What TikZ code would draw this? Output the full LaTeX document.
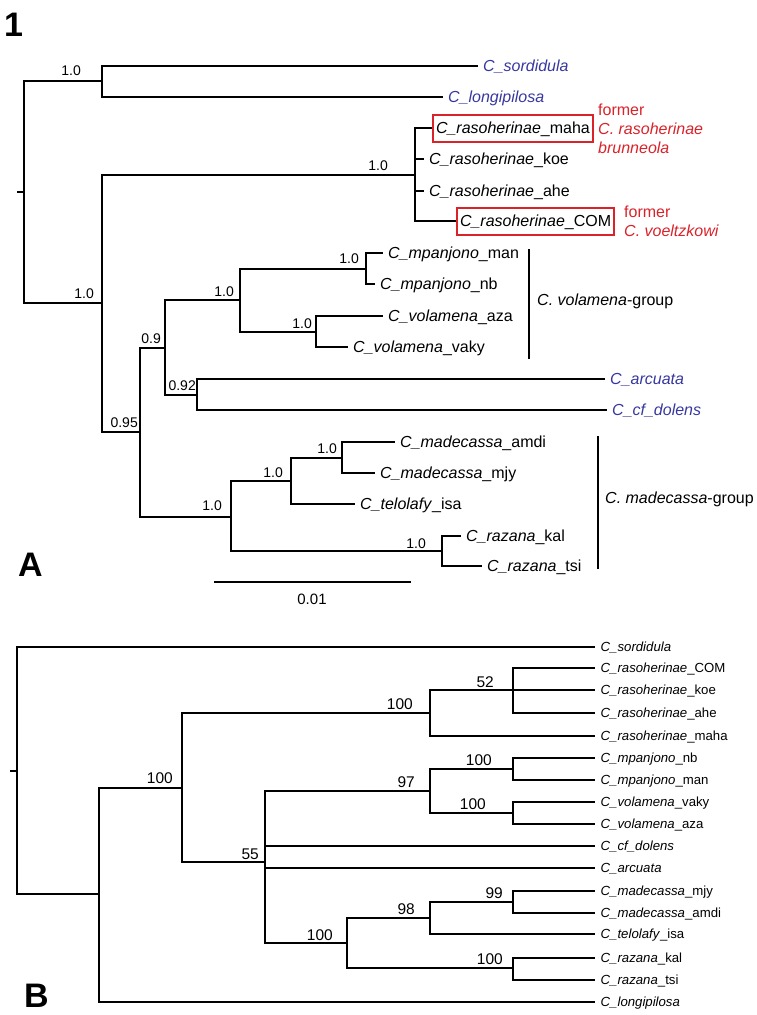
\documentclass[tikz,border=0pt]{standalone}
\usepackage{fontspec}
\setmainfont{Liberation Sans}
\definecolor{outblue}{RGB}{55,55,160}
\definecolor{boxred}{RGB}{218,34,41}

\begin{document}
\begin{tikzpicture}[
    x=1pt, y=-1pt,
    branch/.style={line width=2.4pt},
    taxon/.style={anchor=west, font=\fontsize{16}{19}\selectfont,
                  text height=12pt, text depth=2pt,
                  inner xsep=5pt, inner ysep=0pt},
    taxon out/.style={taxon, text=outblue},
    taxon boxed/.style={taxon, draw=boxred, line width=2pt,
                        inner xsep=3pt, inner ysep=6.5pt},
    taxon small/.style={anchor=west, font=\fontsize{13.2}{15}\selectfont,
                        text height=10pt, text depth=0.5pt,
                        inner xsep=5.5pt, inner ysep=0pt},
    supp/.style={anchor=base east, inner sep=0pt, font=\fontsize{14}{16}\selectfont},
    supp big/.style={supp, font=\fontsize{15.5}{18}\selectfont},
    note/.style={anchor=base west, inner sep=0pt, text=boxred,
                 font=\fontsize{16}{19}\selectfont},
    group/.style={anchor=base west, inner sep=0pt, font=\fontsize{16}{19}\selectfont},
    panel/.style={anchor=base west, inner sep=0pt,
                  font=\fontsize{34}{40}\selectfont\bfseries},
]

\def\cname#1#2{\textit{C\_#1}\_#2}

\useasboundingbox (0,0) rectangle (756,1015);

% =====================================================================
%  PANEL A -- Bayesian tree (posterior probabilities)
% =====================================================================
\node[panel] (pOne) at (4,36) {1};
\node[panel] (pA) at (18,576) {A};

% --- internal nodes ---
\coordinate (rAtick) at (17,192);
\coordinate (rA)  at (24,192);
\coordinate (a1)  at (102,81);
\coordinate (a2)  at (102,303);
\coordinate (a3)  at (415,175);
\coordinate (a4)  at (140,432);
\coordinate (a5)  at (165,348);
\coordinate (a6)  at (240,300);
\coordinate (a7)  at (366,269);
\coordinate (a8)  at (316,332);
\coordinate (a9)  at (197,395);
\coordinate (a10) at (231,517);
\coordinate (a11) at (291,481);
\coordinate (a12) at (342,458);
\coordinate (a13) at (442,551);

% --- tips ---
\node[taxon out]   (sordA)  at (478,66)  {\textit{C\_sordidula}};
\node[taxon out]   (longiA) at (443,97)  {\textit{C\_longipilosa}};
\node[taxon boxed] (mahaA)  at (432,128) {\cname{rasoherinae}{maha}};
\node[taxon]       (koeA)   at (424,159) {\cname{rasoherinae}{koe}};
\node[taxon]       (aheA)   at (424,191) {\cname{rasoherinae}{ahe}};
\node[taxon boxed] (comA)   at (456,221) {\cname{rasoherinae}{COM}};
\node[taxon]       (manA)   at (383,253) {\cname{mpanjono}{man}};
\node[taxon]       (nbA)    at (375,284) {\cname{mpanjono}{nb}};
\node[taxon]       (azaA)   at (383,316) {\cname{volamena}{aza}};
\node[taxon]       (vakyA)  at (348,347) {\cname{volamena}{vaky}};
\node[taxon out]   (arcA)   at (605,379) {\textit{C\_arcuata}};
\node[taxon out]   (dolA)   at (607,410) {\textit{C\_cf\_dolens}};
\node[taxon]       (amdiA)  at (395,442) {\cname{madecassa}{amdi}};
\node[taxon]       (mjyA)   at (375,473) {\cname{madecassa}{mjy}};
\node[taxon]       (telA)   at (355,504) {\cname{telolafy}{isa}};
\node[taxon]       (kalA)   at (461,536) {\cname{razana}{kal}};
\node[taxon]       (tsiA)   at (482,566) {\cname{razana}{tsi}};

% --- branches ---
\draw[branch] (rAtick) -- (rA);
\foreach \p/\c in {rA/a1, rA/a2, a1/sordA, a1/longiA, a2/a3, a2/a4,
                   a3/mahaA, a3/koeA, a3/aheA, a3/comA, a4/a5, a4/a10,
                   a5/a6, a5/a9, a6/a7, a6/a8, a7/manA, a7/nbA,
                   a8/azaA, a8/vakyA, a9/arcA, a9/dolA, a10/a11, a10/a13,
                   a11/a12, a11/telA, a12/amdiA, a12/mjyA, a13/kalA, a13/tsiA}
    \draw[branch] (\p) |- (\c);

% --- posterior probabilities ---
\node[supp] (sA1)  at (81,75)   {1.0};
\node[supp] (sA2)  at (94,298)  {1.0};
\node[supp] (sA3)  at (388,170) {1.0};
\node[supp] (sA4)  at (138,427) {0.95};
\node[supp] (sA5)  at (161,343) {0.9};
\node[supp] (sA6)  at (234,296) {1.0};
\node[supp] (sA7)  at (359,263) {1.0};
\node[supp] (sA8)  at (312,328) {1.0};
\node[supp] (sA9)  at (196,390) {0.92};
\node[supp] (sA10) at (222,510) {1.0};
\node[supp] (sA11) at (283,477) {1.0};
\node[supp] (sA12) at (337,453) {1.0};
\node[supp] (sA13) at (426,548) {1.0};

% --- former names ---
\node[note] (fm1) at (598,115) {former};
\node[note] (fm2) at (598,134) {\textit{C. rasoherinae}};
\node[note] (fm3) at (598,153) {\textit{brunneola}};
\node[note] (fm4) at (624,217) {former};
\node[note] (fm5) at (624,236) {\textit{C. voeltzkowi}};

% --- species groups ---
\coordinate (gVolTop) at (529,249);
\coordinate (gVolBot) at (529,359);
\draw[branch] (gVolTop) -- (gVolBot);
\node[group] (gVol) at (537,305) {\textit{C. volamena}-group};

\coordinate (gMadTop) at (598,436);
\coordinate (gMadBot) at (598,569);
\draw[branch] (gMadTop) -- (gMadBot);
\node[group] (gMad) at (605,503) {\textit{C. madecassa}-group};

% --- scale bar ---
\coordinate (sbL) at (214,582);
\coordinate (sbR) at (411,582);
\draw[line width=2pt] (sbL) -- (sbR);
\node[anchor=base, inner sep=0pt, font=\fontsize{15}{18}\selectfont]
    (sbT) at (312,604) {0.01};

% =====================================================================
%  PANEL B -- bootstrap tree
% =====================================================================
\node[panel] (pB) at (24,1007) {B};

% --- internal nodes ---
\coordinate (rBtick) at (10,771);
\coordinate (rB)  at (17,771);
\coordinate (b1)  at (99,894);
\coordinate (b2)  at (182,788);
\coordinate (b3)  at (430,713);
\coordinate (b4)  at (513,690);
\coordinate (b5)  at (265,862);
\coordinate (b6)  at (430,791);
\coordinate (b7)  at (513,769);
\coordinate (b8)  at (513,813);
\coordinate (b9)  at (347,943);
\coordinate (b10) at (430,918);
\coordinate (b11) at (513,902);
\coordinate (b12) at (513,968);

% --- tips (all aligned) ---
\foreach \nm/\y/\txt in {
    sordB/647/{\textit{C\_sordidula}},
    comB/668/{\cname{rasoherinae}{COM}},
    koeB/690/{\cname{rasoherinae}{koe}},
    aheB/713/{\cname{rasoherinae}{ahe}},
    mahaB/736/{\cname{rasoherinae}{maha}},
    nbB/758/{\cname{mpanjono}{nb}},
    manB/780/{\cname{mpanjono}{man}},
    vakyB/802/{\cname{volamena}{vaky}},
    azaB/824/{\cname{volamena}{aza}},
    dolB/846/{\textit{C\_cf\_dolens}},
    arcB/868/{\textit{C\_arcuata}},
    mjyB/891/{\cname{madecassa}{mjy}},
    amdiB/913/{\cname{madecassa}{amdi}},
    telB/934/{\cname{telolafy}{isa}},
    kalB/958/{\cname{razana}{kal}},
    tsiB/980/{\cname{razana}{tsi}},
    longB/1002/{\textit{C\_longipilosa}}}
    \node[taxon small] (\nm) at (595,\y) {\txt};

% --- branches ---
\draw[branch] (rBtick) -- (rB);
\foreach \p/\c in {rB/sordB, rB/b1, b1/b2, b1/longB, b2/b3, b2/b5,
                   b3/b4, b3/mahaB, b4/comB, b4/koeB, b4/aheB,
                   b5/b6, b5/dolB, b5/arcB, b5/b9, b6/b7, b6/b8,
                   b7/nbB, b7/manB, b8/vakyB, b8/azaB, b9/b10, b9/b12,
                   b10/b11, b10/telB, b11/mjyB, b11/amdiB, b12/kalB, b12/tsiB}
    \draw[branch] (\p) |- (\c);

% --- bootstrap values ---
\node[supp big] (sB2)  at (173,783) {100};
\node[supp big] (sB5)  at (259,859) {55};
\node[supp big] (sB9)  at (333,940) {100};
\node[supp big] (sB3)  at (413,709) {100};
\node[supp big] (sB4)  at (494,687) {52};
\node[supp big] (sB6)  at (415,787) {97};
\node[supp big] (sB7)  at (492,765) {100};
\node[supp big] (sB8)  at (486,809) {100};
\node[supp big] (sB10) at (415,914) {98};
\node[supp big] (sB11) at (503,898) {99};
\node[supp big] (sB12) at (503,964) {100};

\end{tikzpicture}
\end{document}
